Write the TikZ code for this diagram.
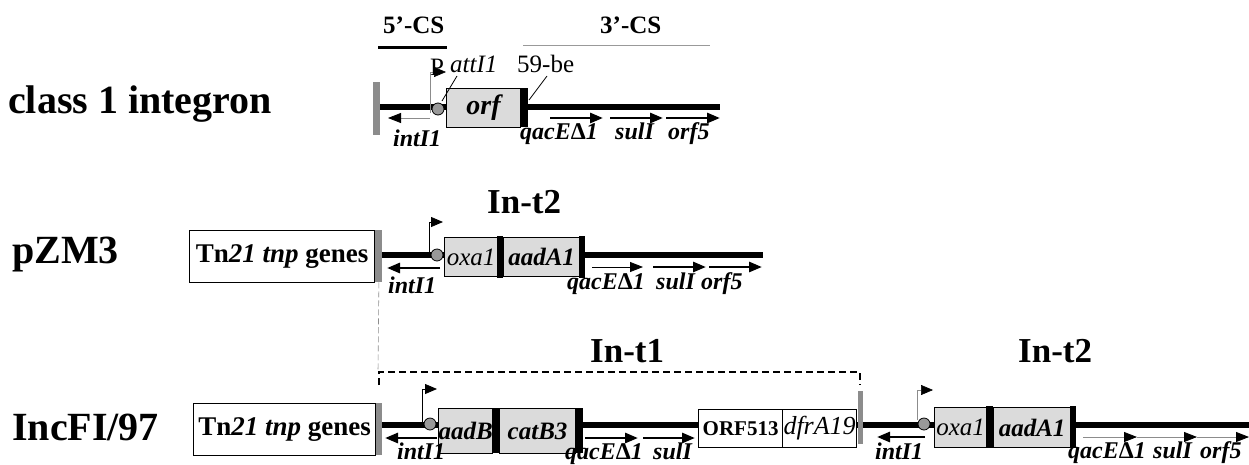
\documentclass[tikz,border=0pt]{standalone}
\usepackage{fontspec}
\setmainfont{Liberation Serif}
\usetikzlibrary{arrows.meta}

\begin{document}
\begin{tikzpicture}[
        x=1pt, y=-1pt,
        % Define styles for consistency
        backbone/.style={line width=5.5pt},
        endbar/.style={fill=black!45, inner sep=0pt, minimum width=7pt, anchor=north west},
        cassette/.style={draw, line width=1.2pt, fill=black!14, inner sep=0pt, anchor=north west, minimum height=39pt},
        plainbox/.style={draw, line width=1.2pt, fill=white, inner sep=0pt, anchor=north west},
        attc/.style={fill=black, inner sep=0pt, minimum width=7pt, anchor=north west},
        site/.style={circle, draw, line width=0.8pt, fill=black!40, minimum size=12pt, inner sep=0pt},
        gene/.style={-{Triangle[length=13pt,width=10pt]}, line width=2.8pt},
        thingene/.style={draw=black!45, line width=0.8pt, -{Triangle[length=13pt,width=10pt,color=black]}},
        promoter/.style={line width=0.8pt, -{Triangle[length=12pt,width=10pt,color=black]}},
        glabel/.style={font=\fontsize{24}{24}\selectfont\bfseries\itshape, inner sep=0pt, anchor=base west},
        smalltext/.style={font=\fontsize{25}{25}\selectfont, inner sep=0pt, anchor=base west},
        cslabel/.style={font=\fontsize{25}{25}\selectfont\bfseries, inner sep=0pt, anchor=base west},
        rowlabel/.style={font=\fontsize{40}{40}\selectfont\bfseries, inner sep=0pt, anchor=base west},
        intlabel/.style={font=\fontsize{35}{35}\selectfont\bfseries, inner sep=0pt, anchor=base west},
        tntext/.style={font=\fontsize{27}{27}\selectfont\bfseries},
        bracket/.style={line width=2.2pt, dash pattern=on 7pt off 4pt}
    ]
    \newcommand{\qacname}{qacE{\upshape Δ}1}
    \useasboundingbox (0,0) rectangle (1249,464);

    % ===== class 1 integron =====
    % --- Coordinates ---
    \coordinate (bb1s) at (380,107);
    \coordinate (bb1e) at (720,107);
    \coordinate (p1b) at (430,113);
    \coordinate (p1h) at (446,72);
    \coordinate (attptr) at (457,76);
    \coordinate (attend) at (442,101);
    \coordinate (beptr) at (547,76);
    \coordinate (beend) at (529,100);
    \coordinate (cs5l) at (378,47);
    \coordinate (cs5r) at (447,47);
    \coordinate (cs3l) at (523,45);
    \coordinate (cs3r) at (710,45);
    \coordinate (int1s) at (430,118);
    \coordinate (int1e) at (388,118);
    \coordinate (qac1s) at (550,118);
    \coordinate (qac1e) at (603,118);
    \coordinate (sul1s) at (610,118);
    \coordinate (sul1e) at (663,118);
    \coordinate (orf1s) at (666,118);
    \coordinate (orf1e) at (720,118);

    % --- Draw backbone and features ---
    \draw[backbone] (bb1s) -- (bb1e);
    \node[endbar, minimum height=53pt] (end1) at (373,82) {};
    \node[cassette, minimum width=74pt] (orf) at (446,88) {\fontsize{28}{28}\selectfont\bfseries\itshape orf};
    \node[attc, minimum height=39pt] (be1) at (orf.north east) {};
    \draw[promoter, draw=black!45, line width=0.6pt] (p1b) |- (p1h);
    \node[site] (att1) at (438,109) {};
    \draw[line width=0.8pt] (attptr) -- (attend);
    \draw[line width=0.8pt] (beptr) -- (beend);
    \draw[line width=3pt] (cs5l) -- (cs5r);
    \draw[black!40, line width=1pt] (cs3l) -- (cs3r);
    \draw[thingene] (int1s) -- (int1e);
    \draw[gene] (qac1s) -- (qac1e);
    \draw[gene] (sul1s) -- (sul1e);
    \draw[gene] (orf1s) -- (orf1e);

    % --- Labels ---
    \node[rowlabel] (lab1) at (8,113) {class 1 integron};
    \node[cslabel] (cs5) at (383,33) {5’-CS};
    \node[cslabel] (cs3) at (600,33) {3’-CS};
    \node[smalltext] (ptxt) at (430,75) {P};
    \node[smalltext] (atttxt) at (450,72) {\itshape attI1};
    \node[smalltext] (betxt) at (517,72) {59-be};
    \node[glabel] (int1) at (393,146) {intI1};
    \node[glabel] (qac1) at (520,139) {\qacname};
    \node[glabel] (sul1) at (615,139) {sulI};
    \node[glabel] (orf5a) at (668,139) {orf5};

    % ===== pZM3 =====
    % --- Coordinates ---
    \coordinate (bb2s) at (381,255);
    \coordinate (bb2e) at (763,255);
    \coordinate (p2b) at (429,255);
    \coordinate (p2h) at (443,222);
    \coordinate (int2s) at (440,268);
    \coordinate (int2e) at (387,268);
    \coordinate (qac2s) at (592,267);
    \coordinate (qac2e) at (643,267);
    \coordinate (sul2s) at (653,267);
    \coordinate (sul2e) at (706,267);
    \coordinate (orf2s) at (709,267);
    \coordinate (orf2e) at (762,267);
    \coordinate (guide) at (378,372);

    % --- Draw backbone and features ---
    \draw[backbone] (bb2s) -- (bb2e);
    \node[plainbox, tntext, minimum width=185pt, minimum height=52pt] (tn2) at (189,230) {Tn\textit{21 tnp} genes};
    \node[endbar, minimum height=52pt] (end2) at (tn2.north east) {};
    \draw[promoter] (p2b) |- (p2h);
    \node[cassette, minimum width=53pt] (oxa2) at (444,237) {\fontsize{25}{25}\selectfont\itshape oxa1};
    \node[attc, minimum height=42pt, minimum width=6pt] (bar2a) at (497,235.5) {};
    \node[cassette, minimum width=76pt] (aad2) at (503,237) {\fontsize{25}{25}\selectfont\bfseries\itshape aadA1};
    \node[attc, minimum height=42pt, minimum width=6pt] (bar2b) at (579,235.5) {};
    \node[site] (att2) at (437,255) {};
    \draw[gene] (int2s) -- (int2e);
    \draw[thingene, draw=black] (qac2s) -- (qac2e);
    \draw[gene] (sul2s) -- (sul2e);
    \draw[gene] (orf2s) -- (orf2e);
    \draw[black!45, line width=0.6pt, dash pattern=on 6pt off 3pt] (end2.south) -- (guide);

    % --- Labels ---
    \node[rowlabel] (lab2) at (12,263) {pZM3};
    \node[intlabel] (int2lab) at (487,213) {In-t2};
    \node[glabel] (int2) at (388,293) {intI1};
    \node[glabel] (qac2) at (567,289) {\qacname};
    \node[glabel] (sul2) at (656,289) {sulI};
    \node[glabel] (orf5b) at (701,289) {orf5};

    % ===== IncFI/97 =====
    % --- Coordinates ---
    \coordinate (bb3s) at (381,425);
    \coordinate (bb3e) at (1249,425);
    \coordinate (p3b) at (422,423);
    \coordinate (p3h) at (437,389);
    \coordinate (p4b) at (917,420);
    \coordinate (p4h) at (933,390);
    \coordinate (br1) at (379,385);
    \coordinate (br2) at (379,372);
    \coordinate (br3) at (860,372);
    \coordinate (br4) at (860,385);
    \coordinate (int3s) at (437,438);
    \coordinate (int3e) at (385,438);
    \coordinate (qac3s) at (585,438);
    \coordinate (qac3e) at (638,438);
    \coordinate (sul3s) at (643,438);
    \coordinate (sul3e) at (695,438);
    \coordinate (int4s) at (925,437);
    \coordinate (int4e) at (877,437);
    \coordinate (qac4s) at (1083,437);
    \coordinate (qac4e) at (1137,437);
    \coordinate (sul4s) at (1137,437);
    \coordinate (sul4e) at (1197,437);
    \coordinate (orf4s) at (1197,437);
    \coordinate (orf4e) at (1249,437);

    % --- Draw backbone and features ---
    \draw[backbone] (bb3s) -- (bb3e);
    \node[plainbox, tntext, minimum width=182pt, minimum height=52pt] (tn3) at (193,403) {Tn\textit{21 tnp} genes};
    \node[endbar, minimum height=52pt, minimum width=6pt] (end3) at (tn3.north east) {};
    \draw[promoter] (p3b) |- (p3h);
    \node[cassette, minimum width=54pt, minimum height=45pt] (aadB) at (438,408) {\fontsize{25}{25}\selectfont\bfseries\itshape aadB};
    \node[attc, minimum height=45pt] (bar3a) at (492,408) {};
    \node[cassette, minimum width=76pt, minimum height=45pt] (cat3) at (499,408) {\fontsize{25}{25}\selectfont\bfseries\itshape catB3};
    \node[attc, minimum height=45pt, minimum width=8pt] (bar3b) at (575,408) {};
    \node[site] (att3) at (430,424) {};
    \node[plainbox, minimum width=84pt, minimum height=38pt] (orf513) at (698,409) {\fontsize{21}{21}\selectfont\bfseries ORF513};
    \node[plainbox, minimum width=74pt, minimum height=38pt] (dfr) at (782,409) {\fontsize{26}{26}\selectfont\itshape dfrA19};
    \node[endbar, minimum height=53pt, minimum width=5pt] (end4) at (858,391) {};
    \draw[promoter, draw=black!45, line width=0.6pt] (p4b) |- (p4h);
    \node[cassette, minimum width=52pt, minimum height=40pt] (oxa4) at (934,407) {\fontsize{25}{25}\selectfont\itshape oxa1};
    \node[attc, minimum height=42pt] (bar4a) at (986,406) {};
    \node[cassette, minimum width=77pt, minimum height=40pt] (aad4) at (993,407) {\fontsize{25}{25}\selectfont\bfseries\itshape aadA1};
    \node[attc, minimum height=42pt, minimum width=6pt] (bar4b) at (1070,406) {};
    \node[site] (att4) at (924,424) {};
    \draw[bracket] (br1) -- (br2) -- (br3) -- (br4);
    \draw[gene] (int3s) -- (int3e);
    \draw[gene] (qac3s) -- (qac3e);
    \draw[gene] (sul3s) -- (sul3e);
    \draw[gene] (int4s) -- (int4e);
    \draw[thingene] (qac4s) -- (qac4e);
    \draw[thingene] (sul4s) -- (sul4e);
    \draw[thingene] (orf4s) -- (orf4e);

    % --- Labels ---
    \node[rowlabel] (lab3) at (12,440) {IncFI/97};
    \node[intlabel] (int1lab) at (590,362) {In-t1};
    \node[intlabel] (int3lab) at (1018,362) {In-t2};
    \node[glabel] (int3) at (397,459) {intI1};
    \node[glabel] (qac3) at (565,459) {\qacname};
    \node[glabel] (sul3) at (653,459) {sulI};
    \node[glabel] (int4) at (875,459) {intI1};
    \node[glabel] (qac4) at (1068,458) {\qacname};
    \node[glabel] (sul4) at (1153,458) {sulI};
    \node[glabel] (orf5c) at (1200,458) {orf5};

\end{tikzpicture}
\end{document}
